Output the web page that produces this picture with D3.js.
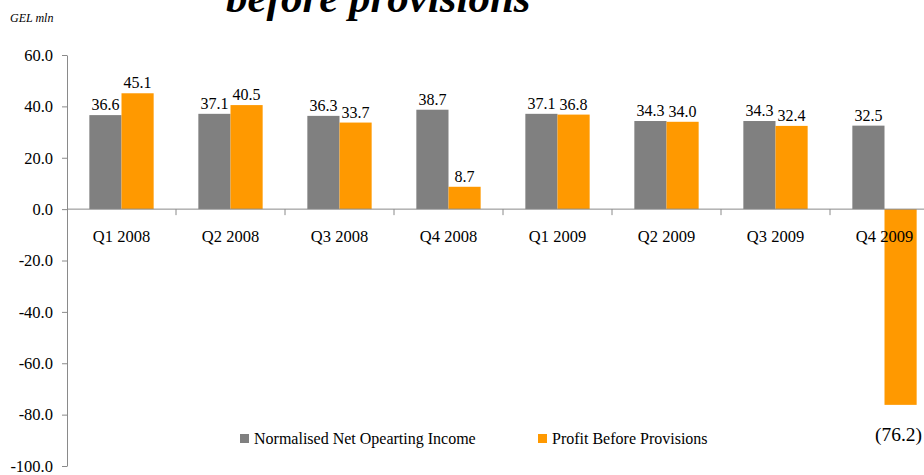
<!DOCTYPE html>
<html>
<head>
<meta charset="utf-8">
<script src="https://cdn.jsdelivr.net/npm/d3@7"></script>
<style>
  body { margin: 0; background: #fff; }
  svg text { font-family: "Liberation Serif", "Times New Roman", serif; }
</style>
</head>
<body>
<script>
// chart data
var quarters = ["Q1 2008", "Q2 2008", "Q3 2008", "Q4 2008", "Q1 2009", "Q2 2009", "Q3 2009", "Q4 2009"];
var seriesNames = ["Normalised Net Opearting Income", "Profit Before Provisions"];
var netOperatingIncome = [36.6, 37.1, 36.3, 38.7, 37.1, 34.3, 34.3, 32.5];
var profitBeforeProv = [45.1, 40.5, 33.7, 8.7, 36.8, 34.0, 32.4, -76.2];
var yTicks = [-100, -80, -60, -40, -20, 0, 20, 40, 60];
var colors = ["#808080", "#ff9900"];

var width = 924, height = 475;
var plotLeft = 67, plotTop = 55, plotBottom = 466, step = 109;

var svg = d3.select("body").append("svg")
    .attr("width", width)
    .attr("height", height);

// scales
var x0 = d3.scaleBand()
    .domain(quarters)
    .range([plotLeft, plotLeft + step * quarters.length])
    .paddingInner(0.41)
    .paddingOuter(0.205);

var x1 = d3.scaleBand()
    .domain([0, 1])
    .range([0, x0.bandwidth()]);

var y = d3.scaleLinear()
    .domain([-100, 60])
    .range([plotBottom, plotTop]);

// title (cut off at the top like the slide)
svg.append("text")
    .attr("x", 226)
    .attr("y", 12)
    .style("font-size", "43px")
    .style("font-weight", "bold")
    .style("font-style", "italic")
    .text("before provisions");

svg.append("text")
    .attr("x", 10)
    .attr("y", 22)
    .style("font-size", "12px")
    .style("font-style", "italic")
    .text("GEL mln");

// y axis (plain hyphen for negatives, like the slide)
var yAxis = svg.append("g")
    .attr("transform", "translate(" + plotLeft + ",0)")
    .call(d3.axisLeft(y).tickValues(yTicks)
        .tickFormat(function (d) { return d.toFixed(1); })
        .tickSize(5).tickSizeOuter(0).tickPadding(9));

yAxis.attr("font-family", null);
yAxis.select(".domain").attr("stroke", "#8a8a8a");
yAxis.selectAll(".tick line").attr("stroke", "#8a8a8a");
yAxis.selectAll(".tick text")
    .style("font-size", "16.5px")
    .attr("fill", "#000");

// bars
var series = [netOperatingIncome, profitBeforeProv];
var groups = svg.append("g").selectAll("g")
    .data(series)
    .enter().append("g")
    .attr("fill", function (d, i) { return colors[i]; });

groups.each(function (vals, si) {
    d3.select(this).selectAll("rect")
        .data(vals)
        .enter().append("rect")
        .attr("x", function (d, i) { return x0(quarters[i]) + x1(si); })
        .attr("width", x1.bandwidth())
        .attr("y", function (d) { return y(Math.max(0, d)); })
        .attr("height", function (d) { return Math.abs(y(d) - y(0)); });
});

// x axis along zero
var xAxis = svg.append("g");
xAxis.append("line")
    .attr("x1", plotLeft)
    .attr("x2", plotLeft + step * quarters.length)
    .attr("y1", y(0))
    .attr("y2", y(0))
    .attr("stroke", "#8a8a8a");

xAxis.selectAll(".xtick")
    .data(quarters.slice(1))
    .enter().append("line")
    .attr("x1", function (d) { return x0(d) - x0.step() * 0.205; })
    .attr("x2", function (d) { return x0(d) - x0.step() * 0.205; })
    .attr("y1", y(0))
    .attr("y2", y(0) + 6)
    .attr("stroke", "#8a8a8a");

xAxis.selectAll(".xlabel")
    .data(quarters)
    .enter().append("text")
    .attr("x", function (d) { return x0(d) + x0.bandwidth() / 2; })
    .attr("y", y(0) + 33)
    .attr("text-anchor", "middle")
    .style("font-size", "16.5px")
    .text(function (d) { return d; });

// value labels
var fmt = function (d) { return d < 0 ? "(" + (-d).toFixed(1) + ")" : d.toFixed(1); };

series.forEach(function (vals, si) {
    svg.append("g").selectAll("text")
        .data(vals)
        .enter().append("text")
        .attr("x", function (d, i) { return x0(quarters[i]) + x1(si) + x1.bandwidth() / 2 - (d < 0 ? 2 : 0); })
        .attr("y", function (d) { return d >= 0 ? y(d) - 5 : y(d) + 36; })
        .attr("text-anchor", "middle")
        .style("font-size", function (d) { return d < 0 ? "19.5px" : "16px"; })
        .text(fmt);
});

// legend
var legendX = [240, 538];
var legend = svg.append("g").selectAll("g")
    .data(seriesNames)
    .enter().append("g")
    .attr("transform", function (d, i) { return "translate(" + legendX[i] + ",434)"; });

legend.append("rect")
    .attr("width", 9)
    .attr("height", 9)
    .attr("fill", function (d, i) { return colors[i]; });

legend.append("text")
    .attr("x", 14)
    .attr("y", 10)
    .style("font-size", "16px")
    .text(function (d) { return d; });
</script>
</body>
</html>
